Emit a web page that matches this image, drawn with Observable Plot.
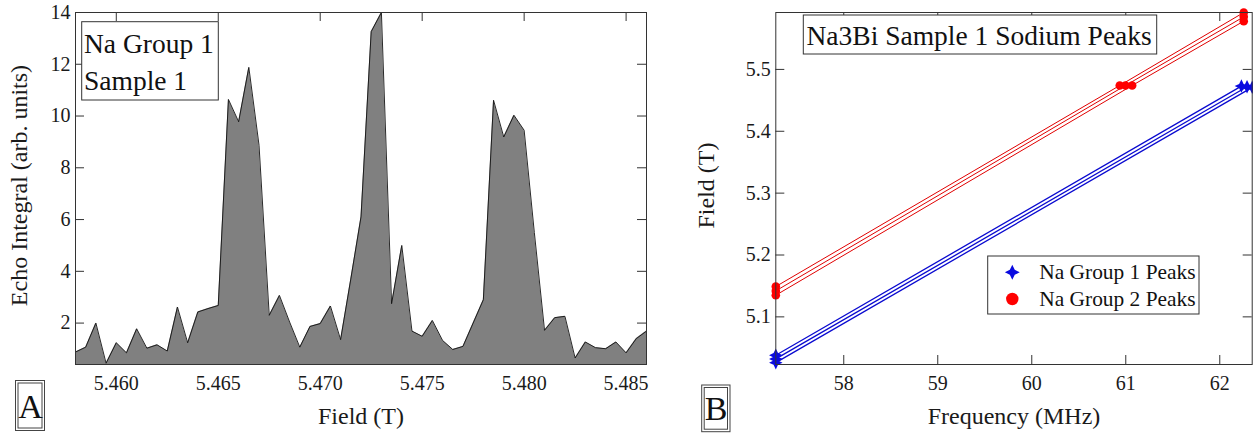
<!DOCTYPE html>
<html>
<head>
<meta charset="utf-8">
<script src="https://cdn.jsdelivr.net/npm/d3@7"></script>
<script src="https://cdn.jsdelivr.net/npm/@observablehq/plot@0.6"></script>
<style>
  html, body { margin: 0; padding: 0; background: #fff; }
  #wrap { position: relative; width: 1253px; height: 440px; overflow: hidden; background: #fff; }
  .panel { position: absolute; top: 0; }
  .panel svg { overflow: visible; font-family: "Liberation Serif", "Times New Roman", serif !important; }
  .panel svg text { font-family: "Liberation Serif", "Times New Roman", serif !important; }
  #overlay { position: absolute; left: 0; top: 0; pointer-events: none; }
</style>
</head>
<body>
<div id="wrap">
  <div class="panel" id="left" style="left:0px;width:660px;"></div>
  <div class="panel" id="right" style="left:660px;width:593px;"></div>
</div>
<script>
// ---------- Panel A data: echo integral vs field ----------
const fieldT = [5.4580, 5.4585, 5.4590, 5.4595, 5.4600, 5.4605, 5.4610, 5.4615, 5.4620, 5.4625,
                5.4630, 5.4635, 5.4640, 5.4645, 5.4650, 5.4655, 5.4660, 5.4665, 5.4670, 5.4675,
                5.4680, 5.4685, 5.4690, 5.4695, 5.4700, 5.4705, 5.4710, 5.4715, 5.4720, 5.4725,
                5.4730, 5.4735, 5.4740, 5.4745, 5.4750, 5.4755, 5.4760, 5.4765, 5.4770, 5.4775,
                5.4780, 5.4785, 5.4790, 5.4795, 5.4800, 5.4805, 5.4810, 5.4815, 5.4820, 5.4825,
                5.4830, 5.4835, 5.4840, 5.4845, 5.4850, 5.4855, 5.4860];
const echoIntegral = [0.88, 1.07, 2.00, 0.45, 1.24, 0.85, 1.78, 1.03, 1.16, 0.92,
                      2.62, 1.24, 2.43, 2.56, 2.68, 10.64, 9.78, 11.88, 8.87, 2.30,
                      3.07, 2.04, 1.07, 1.87, 1.98, 2.66, 1.36, 3.70, 6.10, 13.26,
                      14.00, 2.75, 5.00, 1.69, 1.49, 2.10, 1.33, 0.98, 1.10, 2.00,
                      2.90, 10.61, 9.19, 10.03, 9.45, 5.50, 1.72, 2.21, 2.26, 0.65,
                      1.27, 1.05, 1.01, 1.27, 0.85, 1.40, 1.69];
const fieldTicksA = [5.460, 5.465, 5.470, 5.475, 5.480, 5.485];
const echoTicks = [2, 4, 6, 8, 10, 12, 14];
const echoDomain = [0.4, 14];

// ---------- Panel B data: field vs frequency ----------
const group1Name = "Na Group 1 Peaks";
const group2Name = "Na Group 2 Peaks";
const group1Freq  = [[57.277, 62.230], [57.277, 62.290], [57.277, 62.345]];
const group1Field = [[5.038, 5.473], [5.032, 5.472], [5.026, 5.471]];
const group2Freq  = [[57.277, 60.936, 62.255], [57.277, 60.997, 62.255], [57.277, 61.068, 62.255]];
const group2Field = [[5.149, 5.474, 5.592], [5.142, 5.474, 5.585], [5.135, 5.474, 5.578]];
const freqTicks = [58, 59, 60, 61, 62];
const fieldTicksB = [5.1, 5.2, 5.3, 5.4, 5.5];
const freqDomain = [57.277, 62.345];
const fieldDomain = [5.023, 5.592];

// ---------- styling ----------
const FONT = "'Liberation Serif', 'Times New Roman', serif";
const PLOT_STYLE = "font-family: 'Liberation Serif', 'Times New Roman', serif; font-size: 20px; color: #1a1a1a; background: transparent; overflow: visible;";
const INK = "#1a1a1a";
const AX = "#333";
const RED_LINE = "#e00000", RED_DOT = "#ff0000";
const BLUE_LINE = "#0a0ad0", BLUE_DOT = "#0a0ae0";
const TICK = 9;
const H = 440;

// four-pointed star symbol
const star4 = {
  draw(ctx, size) {
    const r = Math.sqrt(size / Math.PI) * 1.35;
    const q = r * 0.33;
    ctx.moveTo(0, -r); ctx.lineTo(q, -q); ctx.lineTo(r, 0); ctx.lineTo(q, q);
    ctx.lineTo(0, r); ctx.lineTo(-q, q); ctx.lineTo(-r, 0); ctx.lineTo(-q, -q);
    ctx.closePath();
  }
};

function boxTicks(xt, yt, iw, ih) {
  return [
    Plot.tickY(yt, {y: d => d, stroke: AX, insetRight: iw - TICK}),
    Plot.tickY(yt, {y: d => d, stroke: AX, insetLeft: iw - TICK}),
    Plot.tickX(xt, {x: d => d, stroke: AX, insetBottom: ih - TICK}),
    Plot.tickX(xt, {x: d => d, stroke: AX, insetTop: ih - TICK})
  ];
}

// ---------- Panel A ----------
const mA = {top: 12, right: 14, bottom: 76, left: 75};
const WA = 660;
const iwA = WA - mA.left - mA.right, ihA = H - mA.top - mA.bottom;
const echoRows = fieldT.map((f, i) => ({field: f, echo: echoIntegral[i]}));

const plotA = Plot.plot({
  width: WA, height: H,
  marginTop: mA.top, marginRight: mA.right, marginBottom: mA.bottom, marginLeft: mA.left,
  style: PLOT_STYLE,
  x: {domain: [fieldT[0], fieldT[fieldT.length - 1]], label: null},
  y: {domain: echoDomain, label: null},
  marks: [
    ...boxTicks(fieldTicksA, echoTicks, iwA, ihA),
    Plot.areaY(echoRows, {x: "field", y1: echoDomain[0], y2: "echo", fill: "#808080"}),
    Plot.lineY(echoRows, {x: "field", y: "echo", stroke: "#111", strokeWidth: 0.9}),
    Plot.frame({stroke: AX}),
    Plot.axisX(fieldTicksA, {tickSize: 0, tickPadding: 11, tickFormat: d3.format(".3f"), label: null, fontSize: 20, fontFamily: FONT}),
    Plot.axisY(echoTicks, {tickSize: 0, tickPadding: 5, label: null, fontSize: 20, fontFamily: FONT}),
    Plot.text(["Field (T)"], {frameAnchor: "bottom", dy: 52, lineAnchor: "middle", textAnchor: "middle", fontSize: 24, fontFamily: FONT, text: d => d}),
    Plot.text(["Echo Integral (arb. units)"], {frameAnchor: "left", dx: -56, dy: -3, rotate: -90, lineAnchor: "middle", textAnchor: "middle", fontSize: 24, fontFamily: FONT, text: d => d})
  ]
});
document.getElementById("left").appendChild(plotA);

// ---------- Panel B ----------
const mB = {top: 12, right: 1.3, bottom: 76, left: 115.3};
const WB = 593;
const iwB = WB - mB.left - mB.right, ihB = H - mB.top - mB.bottom;
const rows1 = [], rows2 = [];
group1Freq.forEach((fs, k) => fs.forEach((f, j) => rows1.push({series: group1Name, line: "g1-" + k, freq: f, field: group1Field[k][j]})));
group2Freq.forEach((fs, k) => fs.forEach((f, j) => rows2.push({series: group2Name, line: "g2-" + k, freq: f, field: group2Field[k][j]})));

const plotB = Plot.plot({
  width: WB, height: H,
  marginTop: mB.top, marginRight: mB.right, marginBottom: mB.bottom, marginLeft: mB.left,
  style: PLOT_STYLE,
  x: {domain: freqDomain, label: null},
  y: {domain: fieldDomain, label: null},
  marks: [
    ...boxTicks(freqTicks, fieldTicksB, iwB, ihB),
    Plot.line(rows2, {x: "freq", y: "field", z: "line", stroke: RED_LINE, strokeWidth: 1}),
    Plot.line(rows1, {x: "freq", y: "field", z: "line", stroke: BLUE_LINE, strokeWidth: 1.3}),
    Plot.dot(rows2, {x: "freq", y: "field", r: 4.3, fill: RED_DOT, stroke: "none"}),
    Plot.dot(rows1, {x: "freq", y: "field", r: 5, symbol: star4, fill: BLUE_DOT, stroke: "none"}),
    Plot.frame({stroke: AX}),
    Plot.axisX(freqTicks, {tickSize: 0, tickPadding: 11, label: null, fontSize: 20, fontFamily: FONT}),
    Plot.axisY(fieldTicksB, {tickSize: 0, tickPadding: 5, tickFormat: d3.format(".1f"), label: null, fontSize: 20, fontFamily: FONT}),
    Plot.text(["Frequency (MHz)"], {frameAnchor: "bottom", dy: 52, lineAnchor: "middle", textAnchor: "middle", fontSize: 24, fontFamily: FONT, text: d => d}),
    Plot.text(["Field (T)"], {frameAnchor: "left", dx: -69, dy: -3, rotate: -90, lineAnchor: "middle", textAnchor: "middle", fontSize: 24, fontFamily: FONT, text: d => d})
  ]
});
document.getElementById("right").appendChild(plotB);

// ---------- annotation overlay (titles, panel letters, legend) ----------
const ov = d3.select("#wrap").append("svg").attr("id", "overlay")
  .attr("width", 1253).attr("height", 440)
  .style("font-family", FONT).style("fill", INK);

function labelBox(x, y, w, h) {
  ov.append("rect").attr("x", x).attr("y", y).attr("width", w).attr("height", h)
    .attr("fill", "#fff").attr("stroke", AX).attr("stroke-width", 1);
}
function doubleBox(x, y, w, h, letter, cx, by) {
  ov.append("rect").attr("x", x).attr("y", y).attr("width", w).attr("height", h)
    .attr("fill", "#fff").attr("stroke", "#444").attr("stroke-width", 1);
  ov.append("rect").attr("x", x + 2.5).attr("y", y + 2.5).attr("width", w - 5).attr("height", h - 5)
    .attr("fill", "none").attr("stroke", "#444").attr("stroke-width", 1);
  ov.append("text").attr("x", cx).attr("y", by).attr("text-anchor", "middle")
    .attr("font-size", 34).attr("fill", "#111").text(letter);
}

// Panel A title box
labelBox(81.7, 21.7, 136.6, 78.3);
ov.append("text").attr("x", 84).attr("y", 53.3).attr("font-size", 27.5).attr("fill", "#111").text("Na Group 1");
ov.append("text").attr("x", 84).attr("y", 90).attr("font-size", 27.5).attr("fill", "#111").text("Sample 1");
doubleBox(15.5, 380.5, 29, 50, "A", 30.5, 418.3);

// Panel B title box
labelBox(803.3, 15, 353.4, 39);
ov.append("text").attr("x", 806.5).attr("y", 45).attr("font-size", 27.5).attr("fill", "#111").text("Na3Bi Sample 1 Sodium Peaks");
doubleBox(701.7, 385, 28.3, 46.7, "B", 716, 420);

// Legend
labelBox(987.7, 256, 211.3, 58);
ov.append("path").attr("transform", "translate(1012.3,272.3)")
  .attr("d", d3.symbol().type(star4).size(Math.PI * 5.5 * 5.5)()).attr("fill", BLUE_DOT);
ov.append("circle").attr("cx", 1012.3).attr("cy", 299).attr("r", 6.2).attr("fill", RED_DOT);
ov.append("text").attr("x", 1039.3).attr("y", 279.3).attr("font-size", 21.4).attr("fill", "#111").text(group1Name);
ov.append("text").attr("x", 1039.3).attr("y", 306).attr("font-size", 21.4).attr("fill", "#111").text(group2Name);
</script>
</body>
</html>
